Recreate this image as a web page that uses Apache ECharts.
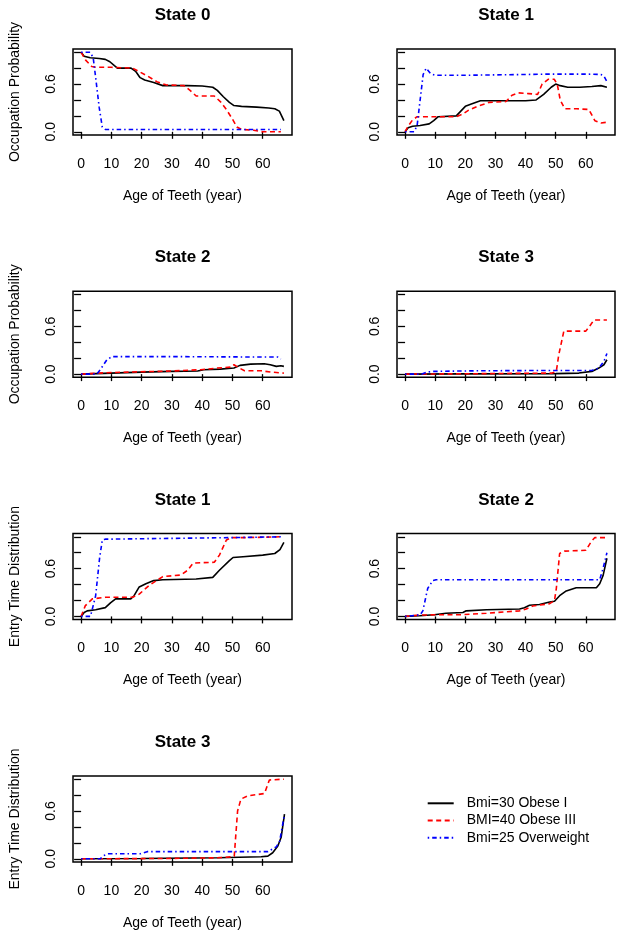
<!DOCTYPE html>
<html><head><meta charset="utf-8">
<script src="https://cdn.jsdelivr.net/npm/echarts@6/dist/echarts.min.js"></script>
<style>html,body{margin:0;padding:0;background:#fff}#c{width:624px;height:939px}</style>
</head><body><div id="c"></div>
<script>
// ---------- data ----------
const seriesNames = ['Bmi=30 Obese I', 'BMI=40 Obese III', 'Bmi=25 Overweight'];
const xTicks = [0, 10, 20, 30, 40, 50, 60];
const yTicks = [0, 0.2, 0.4, 0.6, 0.8, 1.0];
const yTickLabels = [0, 0.6];

// State 0 – occupation probability
const age_occ0_bmi30 = [0, 1, 3, 6, 8, 9.5, 11, 12, 16.5, 18, 19.5, 21, 24, 27, 35, 40, 43.5, 45, 47, 49, 50.5, 53, 58, 62, 64, 65.5, 67];
const val_occ0_bmi30 = [1.0, 0.95, 0.93, 0.92, 0.91, 0.88, 0.83, 0.80, 0.80, 0.76, 0.68, 0.65, 0.62, 0.58, 0.58, 0.575, 0.56, 0.52, 0.44, 0.37, 0.33, 0.32, 0.31, 0.30, 0.29, 0.26, 0.14];
const age_occ0_bmi40 = [0, 1.5, 3.5, 5, 10, 17, 19, 22, 25, 28, 34, 36, 38, 44, 46, 48, 50, 51.5, 53, 57, 60, 66];
const val_occ0_bmi40 = [1.0, 0.90, 0.82, 0.81, 0.81, 0.80, 0.76, 0.70, 0.63, 0.59, 0.58, 0.52, 0.45, 0.45, 0.38, 0.28, 0.16, 0.06, 0.03, 0.02, 0.0, 0.0];
const age_occ0_bmi25 = [0, 3, 4, 5, 6, 7, 8, 20, 40, 60, 66];
const val_occ0_bmi25 = [1.0, 1.0, 0.93, 0.62, 0.30, 0.06, 0.03, 0.03, 0.03, 0.03, 0.03];

// State 1 – occupation probability
const age_occ1_bmi30 = [0, 1, 2.5, 5, 8, 9.5, 11, 17, 18.5, 20, 22, 25, 30, 40, 43.5, 46, 48.5, 50, 51.5, 54, 58, 62, 65, 67];
const val_occ1_bmi30 = [0, 0.05, 0.07, 0.08, 0.10, 0.14, 0.19, 0.20, 0.26, 0.32, 0.35, 0.39, 0.39, 0.39, 0.40, 0.47, 0.56, 0.60, 0.58, 0.56, 0.56, 0.57, 0.58, 0.56];
const age_occ1_bmi40 = [0, 1, 2.5, 4, 10, 17, 19, 21, 24, 28, 33.5, 35.5, 37.5, 41, 44, 45.5, 47.5, 49.5, 50.5, 51.5, 53, 57, 61, 63, 65, 67];
const val_occ1_bmi40 = [0, 0.07, 0.15, 0.19, 0.19, 0.19, 0.22, 0.27, 0.32, 0.37, 0.38, 0.46, 0.49, 0.48, 0.47, 0.60, 0.66, 0.66, 0.60, 0.40, 0.29, 0.29, 0.28, 0.14, 0.11, 0.12];
const age_occ1_bmi25 = [0, 3, 4, 5, 6, 7, 8.5, 10, 20, 30, 40, 48, 52, 60, 65, 66, 67];
const val_occ1_bmi25 = [0, 0, 0.08, 0.40, 0.72, 0.80, 0.73, 0.71, 0.71, 0.715, 0.72, 0.725, 0.725, 0.725, 0.72, 0.70, 0.63];

// State 2 – occupation probability
const age_occ2_bmi30 = [0, 10, 20, 30, 38.5, 40.5, 46, 50.5, 52.5, 56, 60.5, 62.5, 64.5, 66, 67];
const val_occ2_bmi30 = [0, 0.013, 0.025, 0.034, 0.04, 0.055, 0.063, 0.076, 0.11, 0.126, 0.13, 0.118, 0.097, 0.105, 0.097];
const age_occ2_bmi40 = [0, 6, 10, 30.5, 39.5, 45, 49.5, 50.5, 52.3, 54, 59.5, 62.8, 67];
const val_occ2_bmi40 = [0, 0.013, 0.02, 0.04, 0.055, 0.076, 0.088, 0.118, 0.076, 0.042, 0.042, 0.025, 0.013];
const age_occ2_bmi25 = [0, 5.2, 6.3, 8.5, 10.2, 30, 61.7, 65, 66];
const val_occ2_bmi25 = [0, 0, 0.055, 0.18, 0.22, 0.22, 0.214, 0.214, 0.19];

// State 3 – occupation probability
const age_occ3_bmi30 = [0, 20, 50, 57.7, 62, 64.3, 66, 67];
const val_occ3_bmi30 = [0, 0.003, 0.006, 0.013, 0.034, 0.076, 0.118, 0.18];
const age_occ3_bmi40 = [0, 20, 48.8, 50.2, 51, 52.7, 60, 61.6, 62.7, 67];
const val_occ3_bmi40 = [0, 0.004, 0.013, 0.034, 0.24, 0.54, 0.54, 0.62, 0.68, 0.68];
const age_occ3_bmi25 = [0, 5.6, 7.3, 9, 24.5, 50, 62, 64.3, 66, 67];
const val_occ3_bmi25 = [0, 0, 0.025, 0.034, 0.042, 0.046, 0.046, 0.076, 0.16, 0.26];

// State 1 – entry time distribution
const age_ent1_bmi30 = [0, 1, 2, 4.8, 8, 9.7, 11.4, 16.4, 17.5, 19.2, 21.4, 24, 27, 38, 43.5, 45.7, 49, 50.2, 53.5, 60, 64, 65.7, 67];
const val_ent1_bmi30 = [0, 0.05, 0.07, 0.084, 0.11, 0.17, 0.22, 0.22, 0.26, 0.37, 0.41, 0.45, 0.46, 0.47, 0.49, 0.58, 0.70, 0.74, 0.75, 0.77, 0.79, 0.84, 0.93];
const age_ent1_bmi40 = [0, 1.4, 3.7, 8, 17, 19.2, 22.5, 27, 33, 35.2, 37, 44, 45.7, 48, 49.6, 55, 66];
const val_ent1_bmi40 = [0, 0.135, 0.22, 0.24, 0.24, 0.28, 0.39, 0.50, 0.52, 0.58, 0.67, 0.68, 0.77, 0.96, 0.99, 0.99, 1.0];
const age_ent1_bmi25 = [0, 3.1, 4.8, 6.1, 7, 8, 30, 50, 66];
const val_ent1_bmi25 = [0, 0, 0.26, 0.73, 0.96, 0.97, 0.98, 0.99, 1.0];

// State 2 – entry time distribution
const age_ent2_bmi30 = [0, 4.8, 9.7, 13.6, 19.2, 20.3, 27, 38, 39.6, 41.3, 44.6, 48, 49.6, 51.3, 53.5, 56.8, 63.5, 64.6, 65.7, 67];
const val_ent2_bmi30 = [0, 0.008, 0.02, 0.04, 0.05, 0.07, 0.084, 0.093, 0.11, 0.14, 0.15, 0.18, 0.19, 0.26, 0.32, 0.36, 0.36, 0.41, 0.51, 0.73];
const age_ent2_bmi40 = [0, 4.8, 10, 18, 27, 38, 40.2, 42.4, 48, 49.6, 50.2, 51.3, 52.9, 60, 61.8, 63, 67];
const val_ent2_bmi40 = [0, 0.017, 0.02, 0.02, 0.04, 0.07, 0.093, 0.13, 0.16, 0.20, 0.35, 0.79, 0.82, 0.83, 0.94, 0.99, 0.99];
const age_ent2_bmi25 = [0, 5, 5.9, 7.5, 9.2, 10.3, 40, 64.6, 65.7, 67];
const val_ent2_bmi25 = [0, 0.02, 0.07, 0.35, 0.45, 0.46, 0.46, 0.46, 0.60, 0.80];

// State 3 – entry time distribution
const age_ent3_bmi30 = [0, 20, 45, 59.5, 61.7, 63.3, 65, 66.1, 67.2];
const val_ent3_bmi30 = [0, 0.004, 0.013, 0.025, 0.034, 0.076, 0.16, 0.27, 0.56];
const age_ent3_bmi40 = [0, 28, 45, 49.5, 50.6, 51.7, 52.8, 55, 60.6, 62.2, 67];
const val_ent3_bmi40 = [0, 0.004, 0.013, 0.025, 0.034, 0.60, 0.75, 0.79, 0.82, 0.99, 1.0];
const age_ent3_bmi25 = [0, 6.3, 7.4, 9.1, 19.6, 21.8, 61.7, 64.5, 65.6, 67.2];
const val_ent3_bmi25 = [0, 0, 0.04, 0.063, 0.063, 0.09, 0.09, 0.15, 0.22, 0.56];

// ---------- layout / styling ----------
const FONT = '"Liberation Sans", Arial, Helvetica, sans-serif';
const panels = [
  {title: 'State 0', yName: 'Occupation Probability', col: 0, row: 0,
   lines: [[age_occ0_bmi30, val_occ0_bmi30], [age_occ0_bmi40, val_occ0_bmi40], [age_occ0_bmi25, val_occ0_bmi25]]},
  {title: 'State 1', yName: '', col: 1, row: 0,
   lines: [[age_occ1_bmi30, val_occ1_bmi30], [age_occ1_bmi40, val_occ1_bmi40], [age_occ1_bmi25, val_occ1_bmi25]]},
  {title: 'State 2', yName: 'Occupation Probability', col: 0, row: 1,
   lines: [[age_occ2_bmi30, val_occ2_bmi30], [age_occ2_bmi40, val_occ2_bmi40], [age_occ2_bmi25, val_occ2_bmi25]]},
  {title: 'State 3', yName: '', col: 1, row: 1,
   lines: [[age_occ3_bmi30, val_occ3_bmi30], [age_occ3_bmi40, val_occ3_bmi40], [age_occ3_bmi25, val_occ3_bmi25]]},
  {title: 'State 1', yName: 'Entry Time Distribution', col: 0, row: 2,
   lines: [[age_ent1_bmi30, val_ent1_bmi30], [age_ent1_bmi40, val_ent1_bmi40], [age_ent1_bmi25, val_ent1_bmi25]]},
  {title: 'State 2', yName: '', col: 1, row: 2,
   lines: [[age_ent2_bmi30, val_ent2_bmi30], [age_ent2_bmi40, val_ent2_bmi40], [age_ent2_bmi25, val_ent2_bmi25]]},
  {title: 'State 3', yName: 'Entry Time Distribution', col: 0, row: 3,
   lines: [[age_ent3_bmi30, val_ent3_bmi30], [age_ent3_bmi40, val_ent3_bmi40], [age_ent3_bmi25, val_ent3_bmi25]]}
];
const colLeft = [73, 397], colWidth = [219, 218];
const rowTop = [49, 291.3, 533.6, 776], H = 86;
const lineStyles = [
  {color: '#000000', type: 'solid'},
  {color: '#ff0000', type: [5, 3.5]},
  {color: '#0000ff', type: [1.5, 3, 4.5, 3]}
];
const txt = {color: '#000', fontFamily: FONT, fontSize: 14};

const grids = [], xAxes = [], yAxes = [], titles = [], series = [];
panels.forEach((p, i) => {
  const left = colLeft[p.col], width = colWidth[p.col], top = rowTop[p.row];
  grids.push({left, top, width, height: H, show: true, borderColor: '#000', borderWidth: 1.5,
    backgroundColor: 'transparent', containLabel: false, outerBoundsMode: 'none'});
  titles.push({text: p.title, left: left + width / 2, top: top - 42, textAlign: 'center', padding: 0,
    textStyle: {fontSize: 17, fontWeight: 'bold', color: '#000', fontFamily: FONT}});
  xAxes.push({type: 'value', gridIndex: i, min: -2.68, max: 69.68, offset: 2,
    axisLine: {show: false}, splitLine: {show: false},
    axisTick: {show: true, length: 7, lineStyle: {color: '#000', width: 1.3}, customValues: xTicks},
    axisLabel: {show: true, customValues: xTicks, margin: 20, ...txt},
    name: 'Age of Teeth (year)', nameLocation: 'middle', nameGap: 52, nameTextStyle: {...txt}});
  yAxes.push({type: 'value', gridIndex: i, min: -0.04, max: 1.04, offset: 2,
    axisLine: {show: false}, splitLine: {show: false},
    axisTick: {show: true, length: 7, lineStyle: {color: '#000', width: 1.3}, customValues: yTicks},
    axisLabel: {show: true, customValues: yTickLabels, rotate: 90, margin: 13,
      formatter: v => Number(v).toFixed(1), ...txt},
    name: p.yName, nameLocation: 'middle', nameGap: 49, nameTextStyle: {...txt}});
  p.lines.forEach((ln, k) => {
    series.push({type: 'line', name: seriesNames[k], xAxisIndex: i, yAxisIndex: i,
      data: ln[0].map((a, j) => [a, ln[1][j]]),
      symbol: 'none', showSymbol: false, silent: true, animation: false, z: 2 + k,
      lineStyle: {color: lineStyles[k].color, width: 1.6, type: lineStyles[k].type},
      itemStyle: {color: lineStyles[k].color},
      emphasis: {disabled: true}});
  });
});

const chart = echarts.init(document.getElementById('c'), null, {renderer: 'canvas'});
chart.setOption({
  animation: false,
  backgroundColor: '#ffffff',
  textStyle: {fontFamily: FONT},
  title: titles,
  grid: grids,
  xAxis: xAxes,
  yAxis: yAxes,
  legend: {data: seriesNames, orient: 'vertical', left: 426.7, top: 796.3, padding: 0,
    itemWidth: 26, itemHeight: 14, itemGap: 3.2, selectedMode: false,
    itemStyle: {opacity: 0},
    textStyle: {...txt, padding: [0, 0, 0, 8]}},
  series
});
</script></body></html>
